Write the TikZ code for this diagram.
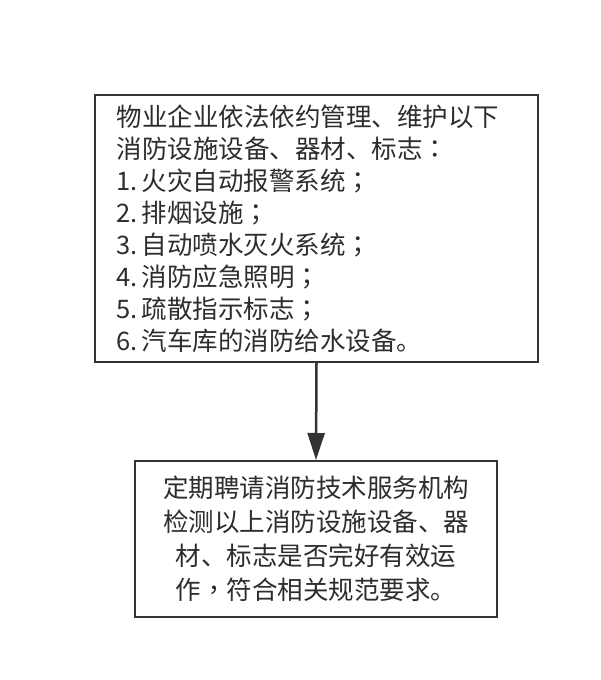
\documentclass[tikz,border=0pt]{standalone}
\usepackage{fontspec}
\newfontfamily\cjk{Noto Sans CJK SC}
\newfontfamily\cjkmid{Noto Sans CJK TC}
\usepackage{tikz}
\usetikzlibrary{
    arrows.meta,
    positioning
}
\definecolor{boxgray}{RGB}{51,51,51}
\definecolor{textgray}{RGB}{45,45,45}
% centred full-width punctuation
\newcommand{\midp}[1]{{\cjkmid #1}}

\begin{document}
\begin{tikzpicture}[x=1pt, y=-1pt,
        stepbox/.style={draw=boxgray, line width=2pt, inner sep=0pt,
            text=textgray},
        flow/.style={draw=boxgray, line width=2.5pt,
            -{Triangle[length=27pt, width=17pt]}}]
        % Canvas
        \fill[white] (0,0) rectangle (600,680);
        \useasboundingbox (0,0) rectangle (600,680);

        % Boxes
        \node[stepbox, minimum width=443pt, minimum height=267pt,
            text width=400pt, align=left,
            font=\cjk\fontsize{25.5}{32}\selectfont] (duty) at (316.5,228.5)
            {物业企业依法依约管理、维护以下\\
             消防设施设备、器材、标志\midp{：}\\
             1.\,火灾自动报警系统\midp{；}\\
             2.\,排烟设施\midp{；}\\
             3.\,自动喷水灭火系统\midp{；}\\
             4.\,消防应急照明\midp{；}\\
             5.\,疏散指示标志\midp{；}\\
             6.\,汽车库的消防给水设备。};

        \node[stepbox, minimum width=362pt, minimum height=156pt,
            text width=330pt, align=center,
            font=\cjk\fontsize{25.5}{34}\selectfont] (check) at (316,539)
            {定期聘请消防技术服务机构\\
             检测以上消防设施设备、器\\
             材、标志是否完好有效运\\
             作\midp{，}符合相关规范要求。};

        % Arrow
        \draw[flow] (duty.south) -- (check.north);
    \end{tikzpicture}
\end{document}
